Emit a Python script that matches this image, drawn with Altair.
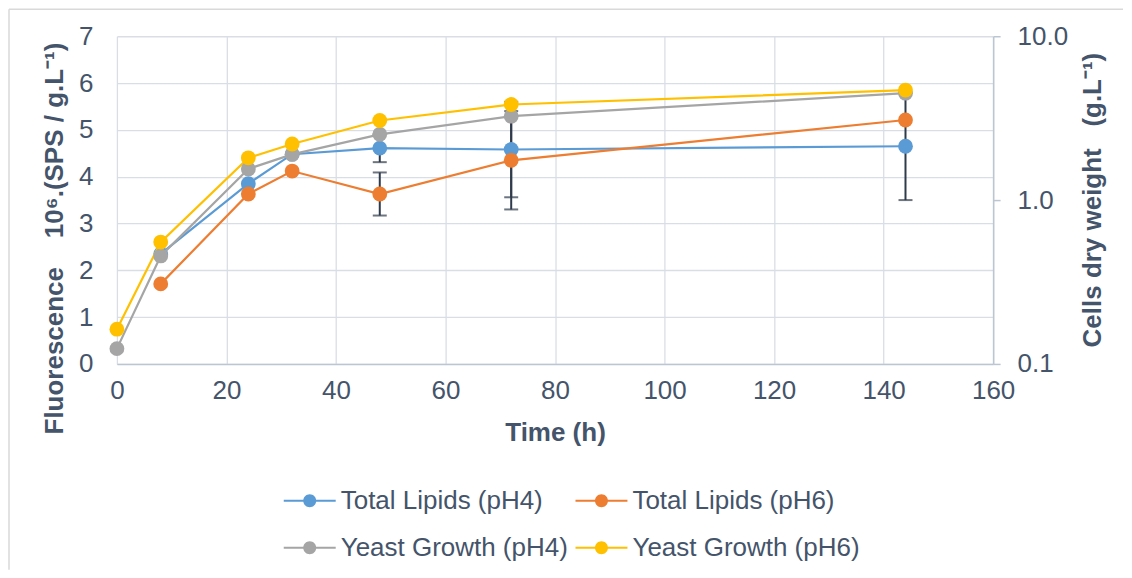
import altair as alt
import pandas as pd

# ---- data ----
time = [0, 8, 24, 32, 48, 72, 144]
lipids_ph4 = [None, 2.35, 3.85, 4.48, 4.61, 4.58, 4.65]
lipids_ph6 = [None, 1.71, 3.63, 4.12, 3.63, 4.35, 5.21]
lipids_ph4_err = [None, 0, 0, 0, 0.30, 1.02, 1.15]
lipids_ph6_err = [None, 0, 0, 0, 0.46, 1.05, 0]
growth_ph4 = [0.124, 0.456, 1.55, 1.90, 2.52, 3.25, 4.49]
growth_ph6 = [0.163, 0.554, 1.81, 2.20, 3.06, 3.83, 4.69]

series_names = ["Total Lipids (pH4)", "Total Lipids (pH6)",
                "Yeast Growth (pH4)", "Yeast Growth (pH6)"]
series_colors = ["#5B9BD5", "#ED7D31", "#A5A5A5", "#FFC000"]
x_ticks = [0, 20, 40, 60, 80, 100, 120, 140, 160]
left_ticks = [0, 1, 2, 3, 4, 5, 6, 7]
right_ticks = [0.1, 1, 10]

# ---- tables ----
lip_rows, err_rows, gro_rows = [], [], []
for name, vals, errs in [(series_names[0], lipids_ph4, lipids_ph4_err),
                         (series_names[1], lipids_ph6, lipids_ph6_err)]:
    for t, v, e in zip(time, vals, errs):
        if v is None:
            continue
        lip_rows.append({"time": t, "value": v, "series": name})
        if e:
            err_rows.append({"time": t, "lo": v - e, "hi": v + e, "series": name})
for name, vals in [(series_names[2], growth_ph4), (series_names[3], growth_ph6)]:
    for t, v in zip(time, vals):
        gro_rows.append({"time": t, "value": v, "series": name})

lip = pd.DataFrame(lip_rows)
err = pd.DataFrame(err_rows)
gro = pd.DataFrame(gro_rows)

TEXT = "#44546A"
FONT = "Liberation Sans"
GRID = "#D9DEE6"
AXISC = "#BCC5D2"
ERRC = "#2F3A4B"

x_enc = alt.X("time:Q", scale=alt.Scale(domain=[0, 160], nice=False),
              axis=alt.Axis(values=x_ticks, grid=True, domain=True, ticks=False, tickSize=0,
                            labelPadding=14, labelFontSize=26, labelFlush=False,
                            title="Time (h)", titleFontSize=26, titleFontWeight="bold",
                            titleY=69, titleBaseline="middle"))

left_axis = alt.Axis(orient="left", values=left_ticks, format="d", grid=True, domain=False,
                     ticks=False, tickSize=0, labelPadding=24, labelFontSize=26,
                     title="Fluorescence\u00a0\u00a0\u00a0\u00a010\u2076.(SPS / g.L\u207b\u00b9)",
                     titleFontSize=26, titleFontWeight="bold", titleX=-62, titleY=202,
                     titleAngle=270, titleBaseline="middle", titleAlign="center")
left_scale = alt.Scale(domain=[0, 7], nice=False)

right_axis = alt.Axis(orient="right", values=right_ticks, format=".1f", grid=False, domain=True,
                      ticks=True, tickSize=7, tickColor=AXISC, tickWidth=1.5,
                      labelPadding=17, labelFontSize=26,
                      title="Cells dry weight\u00a0\u00a0\u00a0(g.L\u207b\u00b9)",
                      titleFontSize=26, titleFontWeight="bold", titleX=99, titleY=163.5,
                      titleAngle=270, titleBaseline="middle", titleAlign="center")
right_scale = alt.Scale(type="log", domain=[0.1, 10], nice=False)

cscale = alt.Scale(domain=series_names, range=series_colors)
# stroke scale: same mapping, listed in another order so its legend stays separate (and hidden)
sscale = alt.Scale(domain=series_names[::-1], range=series_colors[::-1])

sym = ("M-1,-0.04L1,-0.04L1,0.04L-1,0.04Z "
       "M-0.25,0A0.25,0.25 0 1,1 0.25,0A0.25,0.25 0 1,1 -0.25,0Z")
legend = alt.Legend(title=None, orient="none", legendX=167, legendY=439, columns=2,
                    direction="horizontal",
                    symbolType=sym, symbolSize=2704, symbolStrokeWidth=0, symbolOpacity=1,
                    labelFontSize=26, labelColor=TEXT, labelFont=FONT, labelOffset=5,
                    columnPadding=7, rowPadding=8, padding=0, labelLimit=400)

frame = pd.DataFrame({"k": [0]})
border_left = alt.Chart(frame).mark_rule(color="#D9D9D9", strokeWidth=1.5).encode(
    x=alt.value(-108), y=alt.value(-27), y2=alt.value(534))
border_top = alt.Chart(frame).mark_rule(color="#D9D9D9", strokeWidth=1.5).encode(
    x=alt.value(-108), x2=alt.value(1007), y=alt.value(-27))

err_rule = alt.Chart(err).mark_rule(color=ERRC, strokeWidth=2).encode(
    x=x_enc, y=alt.Y("lo:Q", scale=left_scale, axis=left_axis), y2="hi:Q")
err_lo = alt.Chart(err).mark_tick(color=ERRC, orient="horizontal", size=14, thickness=2).encode(
    x=x_enc, y=alt.Y("lo:Q", scale=left_scale, axis=left_axis))
err_hi = alt.Chart(err).mark_tick(color=ERRC, orient="horizontal", size=14, thickness=2).encode(
    x=x_enc, y=alt.Y("hi:Q", scale=left_scale, axis=left_axis))

stroke_enc = alt.Stroke("series:N", scale=sscale, legend=None)

lip_line = alt.Chart(lip).mark_line(strokeWidth=2.2).encode(
    x=x_enc, y=alt.Y("value:Q", scale=left_scale, axis=left_axis),
    stroke=stroke_enc, detail="series:N", order="time:Q")
lip_pts = alt.Chart(lip).mark_circle(size=220, opacity=1).encode(
    x=x_enc, y=alt.Y("value:Q", scale=left_scale, axis=left_axis),
    color=alt.Color("series:N", scale=cscale, legend=legend))

gro_line = alt.Chart(gro).mark_line(strokeWidth=2.2).encode(
    x=x_enc, y=alt.Y("value:Q", scale=right_scale, axis=right_axis),
    stroke=stroke_enc, detail="series:N", order="time:Q")
gro_pts = alt.Chart(gro).mark_circle(size=220, opacity=1).encode(
    x=x_enc, y=alt.Y("value:Q", scale=right_scale, axis=right_axis),
    color=alt.Color("series:N", scale=cscale, legend=legend))

left = alt.layer(border_left, border_top, err_rule, err_lo, err_hi, lip_line, lip_pts)
right = alt.layer(gro_line, gro_pts)

chart = alt.layer(left, right).resolve_scale(y="independent").properties(
    width=877, height=328, padding=0, background="white"
).configure_view(stroke=None).configure_axis(
    labelFont=FONT, titleFont=FONT, labelColor=TEXT, titleColor=TEXT,
    gridColor=GRID, gridWidth=1.3, domainColor=AXISC, domainWidth=1.5
).configure_legend(labelFont=FONT)

chart.save("out.html", embed_options={"renderer": "svg", "actions": False})
